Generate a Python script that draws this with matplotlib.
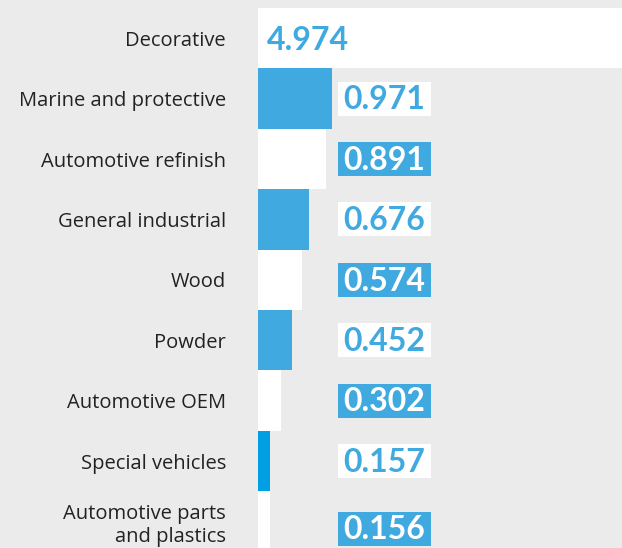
import numpy as np
import matplotlib.pyplot as plt
from matplotlib.patches import Rectangle
import matplotlib.transforms as mtransforms

# Data
categories = ["Decorative", "Marine and protective", "Automotive refinish",
              "General industrial", "Wood", "Powder", "Automotive OEM",
              "Special vehicles", "Automotive parts\nand plastics"]
values = [4.974, 0.971, 0.891, 0.676, 0.574, 0.452, 0.302, 0.157, 0.156]
value_labels = ["4.974", "0.971", "0.891", "0.676", "0.574", "0.452",
                "0.302", "0.157", "0.156"]

BLUE = "#3FA9E0"
BLUE2 = "#009FE3"
BG = "#EBEBEB"

plt.rcParams['font.family'] = ['Open Sans', 'DejaVu Sans']

fig = plt.figure(figsize=(6.22, 5.48), dpi=100, facecolor=BG)
W, H = 622, 548
ax = fig.add_axes([258 / W, 0, (622 - 258) / W, (548 - 8) / H])
ax.set_facecolor(BG)

bar_colors = []
for i in range(len(values)):
    if i % 2 == 0:
        bar_colors.append("white")
    elif i == 7:
        bar_colors.append(BLUE2)
    else:
        bar_colors.append(BLUE)

y = np.arange(len(values))
ax.barh(y, values, height=1.0, color=bar_colors, linewidth=0)

ax.set_xlim(0, 364 / 76)
ax.set_ylim(8.44, -0.5)

for s in ax.spines.values():
    s.set_visible(False)
ax.set_xticks([])
ax.set_yticks(y)
ax.set_yticklabels(categories, fontsize=14.5, color="#222222", linespacing=1.2)
ax.tick_params(axis='y', length=0, pad=23)

trans = mtransforms.blended_transform_factory(ax.transAxes, ax.transData)
vfont = ['Lato', 'DejaVu Sans']

# value labels
for i, (v, lab) in enumerate(zip(values, value_labels)):
    if i == 0:
        ax.text(0.025, i + 0.03, lab, transform=trans, ha='left', va='center',
                fontsize=23, fontweight='bold', color=BLUE, family=vfont)
        continue
    yc = i + (0.12 if i == len(values) - 1 else 0)
    box_color = "white" if i % 2 == 1 else BLUE
    txt_color = BLUE if i % 2 == 1 else "white"
    ax.add_patch(Rectangle((80 / 364, yc - 0.28), 93 / 364, 0.56,
                           transform=trans, facecolor=box_color,
                           linewidth=0, clip_on=False, zorder=3))
    ax.text(85 / 364, yc + 0.02, lab, transform=trans, ha='left', va='center',
            fontsize=23, fontweight='bold', color=txt_color, zorder=4,
            family=vfont)

fig.savefig("out.png", dpi=100, facecolor=BG)
